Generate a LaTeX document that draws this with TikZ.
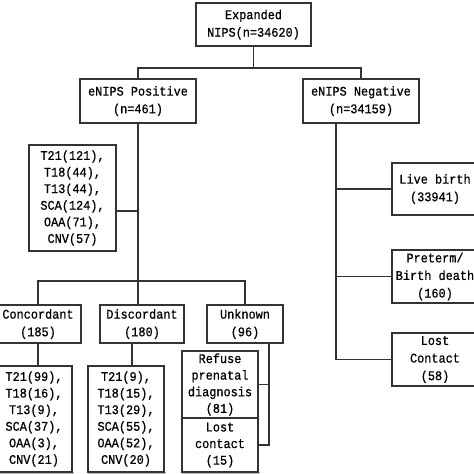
\documentclass[tikz,border=0pt]{standalone}
\usepackage{fontspec}
\setmainfont{Liberation Mono}[FakeBold=0.7,FakeStretch=0.9]
\begin{document}
\begin{tikzpicture}[x=1pt,y=-1pt,
  box/.style={draw=black!80, line width=1.1pt, rectangle, inner sep=0pt, align=center,
    font=\fontsize{13.2}{17.6}\selectfont},
  lst/.style={box, font=\fontsize{13.2}{16.6}\selectfont},
  wire/.style={draw=black!80, line width=1.1pt}]
\useasboundingbox (0,0) rectangle (474,474);
\clip (0,0) rectangle (474,474);
\fill[white] (0,0) rectangle (474,474);
% gray shadow at bottom
\fill[black!25] (-2,472) rectangle (74,474);
\fill[black!25] (88,472) rectangle (166,474);
\fill[black!25] (182,472) rectangle (260,474);
% nodes
\node[box, minimum width=115pt, minimum height=43pt] (top) at (253.5,24.5) {Expanded\\NIPS(n=34620)};
\node[box, minimum width=116pt, minimum height=44pt] (pos) at (138,101) {eNIPS Positive\\(n=461)};
\node[box, minimum width=116pt, minimum height=44pt] (neg) at (361,101) {eNIPS Negative\\(n=34159)};
\node[lst, minimum width=87pt, minimum height=106pt] (list) at (72.5,198) {T21(121),\\T18(44),\\T13(44),\\SCA(124),\\OAA(71),\\CNV(57)};
\node[box, minimum width=86pt, minimum height=52pt] (live) at (435,189) {Live birth\\(33941)};
\node[box, minimum width=86pt, minimum height=53pt] (pre) at (435,276.5) {Preterm/\\Birth death\\(160)};
\node[box, minimum width=86pt, minimum height=53pt] (lost) at (435,359.5) {Lost\\Contact\\(58)};
\node[box, minimum width=86pt, minimum height=38pt] (conc) at (38,324) {Concordant\\(185)};
\node[box, minimum width=84pt, minimum height=38pt] (disc) at (142,324) {Discordant\\(180)};
\node[box, minimum width=76pt, minimum height=38pt] (unk) at (245,324) {Unknown\\(96)};
\node[lst, minimum width=76pt, minimum height=106pt] (clist) at (34,419) {T21(99),\\T18(16),\\T13(9),\\SCA(37),\\OAA(3),\\CNV(21)};
\node[lst, minimum width=76pt, minimum height=106pt] (dlist) at (126,419) {T21(9),\\T18(15),\\T13(29),\\SCA(55),\\OAA(52),\\CNV(20)};
\node[lst, minimum width=76pt, minimum height=67pt] (ref) at (220,384.5) {Refuse\\prenatal\\diagnosis\\(81)};
\node[lst, minimum width=76pt, minimum height=54pt] (lc) at (220,445) {Lost\\contact\\(15)};
% junctions
\coordinate (j1) at (253.5,68);
\coordinate (jl) at (138,211);
\coordinate (jb) at (138,281);
\coordinate (ju) at (269,0);
\coordinate (jn) at (336,0);
% connectors
\draw[wire] (top.south) -- (j1);
\draw[wire] (pos.north) |- (j1) -| (neg.north);
\draw[wire] (pos.south) -- (pos.south |- disc.north);
\draw[wire] (list.east |- jl) -- (jl);
\draw[wire] (conc.north) |- (jb) -| (unk.north);
\draw[wire] (conc.south) -- (conc.south |- clist.north);
\draw[wire] (dlist.north -| 132,0) -- (disc.south -| 132,0);
\draw[wire] (neg.south -| jn) |- (lost.west);
\draw[wire] (jn |- live.west) -- (live.west);
\draw[wire] (jn |- pre.west) -- (pre.west);
\draw[wire] (unk.south -| ju) |- (lc.east);
\draw[wire] (ref.east) -- (ref.east -| ju);
\end{tikzpicture}
\end{document}
